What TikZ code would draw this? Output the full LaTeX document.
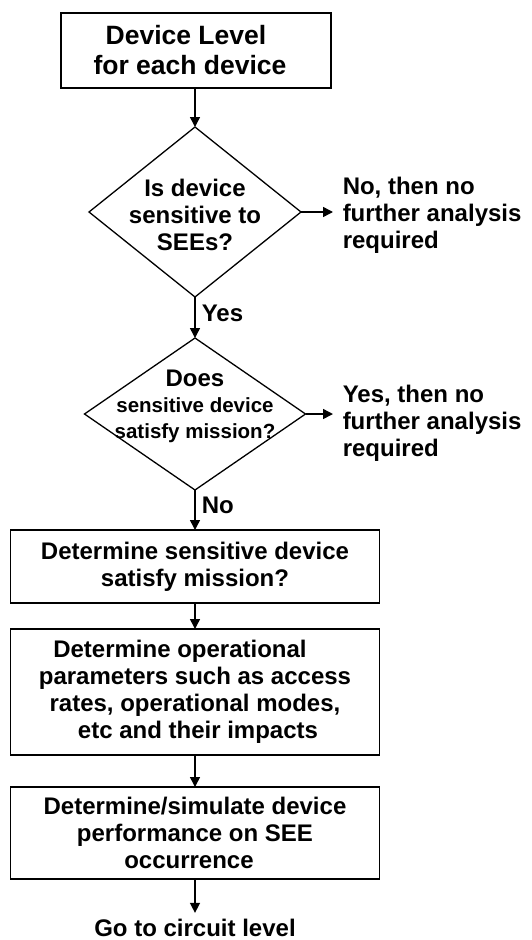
\documentclass[tikz,border=0pt]{standalone}
\usepackage{fontspec}
\setmainfont{Liberation Sans}
\usetikzlibrary{shapes.geometric,arrows.meta}
\begin{document}
\begin{tikzpicture}[x=1pt,y=1pt,
  line width=1.5pt,
  every node/.style={font=\bfseries\fontsize{24}{27}\selectfont},
  box/.style={draw, rectangle, inner sep=0pt, outer sep=0pt, align=center},
  dia/.style={draw, diamond, inner sep=0pt, outer sep=0pt, line width=1.3pt},
  arr/.style={-{Triangle[length=10pt,width=10pt]}},
  side/.style={align=left, anchor=west, inner xsep=9pt, inner ysep=0pt},
  lab/.style={anchor=west, inner sep=0pt}
]
\useasboundingbox (0,0) rectangle (532,-940);

\node[box, minimum width=270pt, minimum height=75pt, font=\bfseries\fontsize{26.5}{30}\selectfont] (b1) at (196,-50.5) {Device Level\hspace*{20pt}\\for each device\hspace*{12pt}};

\node[dia, minimum width=212pt, minimum height=170pt] (d1) at (195,-212) {};
\node[align=center, inner sep=0pt] (d1t) at (195,-215) {Is device\\sensitive to\\SEEs?};
\node[side] (n1) at (333,-215) {No, then no\\further analysis\\required};

\node[dia, minimum width=221pt, minimum height=152pt] (d2) at (195,-414) {};
\node[align=center, inner sep=0pt, font=\bfseries\fontsize{20.5}{26}\selectfont] (d2t) at (195,-406) {{\fontsize{24}{26}\selectfont Does}\\sensitive device\\satisfy mission?};
\node[side] (n2) at (333,-423) {Yes, then no\\further analysis\\required};

\node[box, minimum width=369pt, minimum height=73pt] (b3) at (195,-566.5) {Determine sensitive device\\satisfy mission?};
\node[box, minimum width=369pt, minimum height=126pt] (b4) at (195,-692) {Determine operational\hspace*{30pt}\\parameters such as access\\rates, operational modes,\hspace*{16pt}\\\hspace*{6pt}etc and their impacts};
\node[box, minimum width=369pt, minimum height=92pt] (b5) at (195,-833) {Determine/simulate device\\performance on SEE\hspace*{36pt}\\occurrence\hspace*{12pt}};
\node[anchor=base, inner xsep=0pt, inner ysep=0pt] (go) at (195,-936) {Go to circuit level};

\draw[arr] (d1.north |- b1.south) -- (d1.north);
\draw[arr] (d1.east) -- (d1.east -| n1.west);
\draw[arr] (d1.south) -- (d2.north) node[lab, pos=0.39, xshift=6pt] (yes) {Yes};
\draw[arr] (d2.east) -- (d2.east -| n2.west);
\draw[arr] (d2.south) -- (b3.north) node[lab, pos=0.39, xshift=6pt] (no) {No};
\draw[arr] (b3) -- (b4);
\draw[arr] (b4) -- (b5);
\draw[arr, shorten >=5pt] (b5) -- (go);
\end{tikzpicture}
\end{document}
